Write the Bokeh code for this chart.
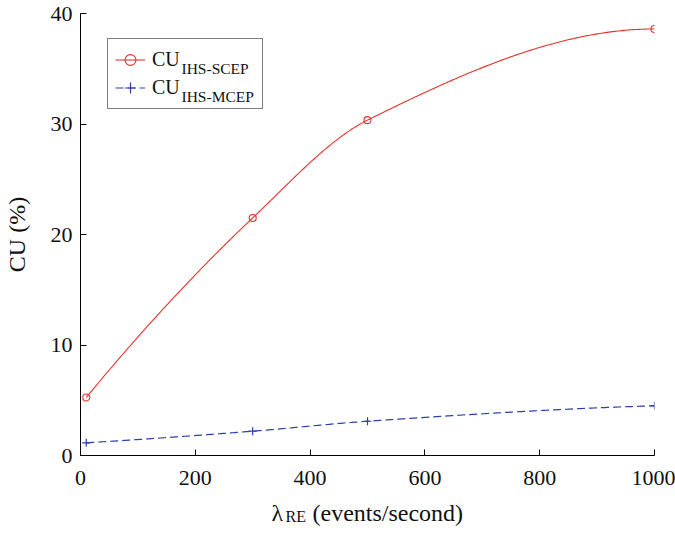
import numpy as np
from bokeh.plotting import figure
from bokeh.layouts import column
from bokeh.models import Range1d, FixedTicker, Label, Legend, LegendItem
from bokeh.embed import file_html
from bokeh.resources import INLINE

# ---- data ----
rate = [10, 300, 500, 1000]                 # lambda_RE (events/second)
cu_scep = [5.25, 21.5, 30.35, 38.6]         # CU_IHS-SCEP (%)
cu_mcep = [1.15, 2.2, 3.1, 4.5]             # CU_IHS-MCEP (%)
x_ticks = [0, 200, 400, 600, 800, 1000]
y_ticks = [0, 10, 20, 30, 40]
series_names = ["CU", "CU"]
series_subs = ["IHS-SCEP", "IHS-MCEP"]
x_label_parts = ["λ", "RE", "(events/second)"]
y_label = "CU (%)"

RED = "#e8302a"
BLUE = "#2a40b0"
FONT = "Liberation Serif"
TXT = "#111111"

LEFT, RIGHT = 77, 21


def pchip(x, y, n=300):
    """Shape-preserving piecewise cubic curve through the data points."""
    x = np.asarray(x, float)
    y = np.asarray(y, float)
    h = np.diff(x)
    d = np.diff(y) / h
    m = np.zeros_like(y)
    for k in range(1, len(x) - 1):
        if d[k - 1] * d[k] > 0:
            w1 = 2 * h[k] + h[k - 1]
            w2 = h[k] + 2 * h[k - 1]
            m[k] = (w1 + w2) / (w1 / d[k - 1] + w2 / d[k])

    def end(h0, h1, d0, d1):
        v = ((2 * h0 + h1) * d0 - h0 * d1) / (h0 + h1)
        if np.sign(v) != np.sign(d0):
            v = 0.0
        elif np.sign(d0) != np.sign(d1) and abs(v) > abs(3 * d0):
            v = 3 * d0
        return v

    m[0] = end(h[0], h[1], d[0], d[1])
    m[-1] = end(h[-1], h[-2], d[-1], d[-2])
    xs = np.linspace(x[0], x[-1], n)
    idx = np.clip(np.searchsorted(x, xs) - 1, 0, len(x) - 2)
    t = (xs - x[idx]) / h[idx]
    h00 = 1 - 3 * t**2 + 2 * t**3
    h10 = t * (1 - t) ** 2
    h01 = 3 * t**2 - 2 * t**3
    h11 = t**2 * (t - 1)
    ys = h00 * y[idx] + h10 * h[idx] * m[idx] + h01 * y[idx + 1] + h11 * h[idx] * m[idx + 1]
    return xs, ys


p = figure(
    width=675, height=497,
    min_border_left=LEFT, min_border_right=RIGHT, min_border_top=13, min_border_bottom=42,
    x_range=Range1d(0, 1000), y_range=Range1d(0, 40),
    output_backend="svg", toolbar_location=None,
    background_fill_color="white", border_fill_color="white",
)
p.outline_line_color = None
p.grid.grid_line_color = None

for ax, ticks in ((p.xaxis, x_ticks), (p.yaxis, y_ticks)):
    ax.ticker = FixedTicker(ticks=ticks)
    ax.major_tick_in = 6
    ax.major_tick_out = 0
    ax.minor_tick_line_color = None
    ax.axis_line_color = "black"
    ax.major_tick_line_color = "black"
    ax.major_label_text_font = FONT
    ax.major_label_text_font_size = "22px"
    ax.major_label_text_color = TXT
p.xaxis.major_label_standoff = 15
p.yaxis.major_label_standoff = 8

p.yaxis.axis_label = y_label
p.yaxis.axis_label_text_font = FONT
p.yaxis.axis_label_text_font_size = "24px"
p.yaxis.axis_label_text_font_style = "normal"
p.yaxis.axis_label_text_color = TXT
p.yaxis.axis_label_standoff = 18

xs1, ys1 = pchip(rate, cu_scep)
xs2, ys2 = pchip(rate, cu_mcep)

l1 = p.line(xs1, ys1, line_color=RED, line_width=1.1)
m1 = p.scatter(rate, cu_scep, marker="circle", size=7, line_color=RED,
               fill_color=None, line_width=1.1)
l2 = p.line(xs2, ys2, line_color=BLUE, line_width=1.2, line_dash="8 4")
m2 = p.scatter(rate, cu_mcep, marker="cross", size=8, line_color=BLUE, line_width=1.2)

legend = Legend(
    items=[LegendItem(label=series_names[0], renderers=[l1, m1]),
           LegendItem(label=series_names[1], renderers=[l2, m2])],
    location=(27, 346),
    padding=7, spacing=1, label_height=27, glyph_height=27,
    glyph_width=30, label_standoff=7, label_width=103,
    label_text_font=FONT, label_text_font_size="20px", label_text_color=TXT,
    border_line_color="black", border_line_width=1,
    background_fill_color=None, margin=0,
)
p.add_layout(legend, "center")

# legend subscripts (screen units relative to the frame's bottom-left)
for ytxt, txt in zip((387.5, 359.5), series_subs):
    p.add_layout(Label(x=101, y=ytxt, x_units="screen", y_units="screen", text=txt,
                       text_font=FONT, text_font_size="15.5px", text_color=TXT,
                       text_baseline="alphabetic", text_align="left", level="overlay"))

# x-axis label strip (lambda with subscript RE), frame aligned with the main frame
xl = figure(width=675, height=36,
            min_border_left=LEFT, min_border_right=RIGHT, min_border_top=0, min_border_bottom=0,
            x_axis_location=None, y_axis_location=None,
            x_range=Range1d(0, 1), y_range=Range1d(0, 1),
            output_backend="svg", toolbar_location=None)
xl.outline_line_color = None
xl.grid.grid_line_color = None
for xpos, ypos, size, txt in ((268, 21, "24px", x_label_parts[0]),
                              (282, 17, "16px", x_label_parts[1]),
                              (309, 21, "24px", x_label_parts[2])):
    xl.add_layout(Label(x=xpos - LEFT, y=ypos, x_units="screen", y_units="screen", text=txt,
                        text_font=FONT, text_font_size=size, text_color=TXT,
                        text_baseline="alphabetic", text_align="left"))

layout = column(p, xl, spacing=0)
open("out.html", "w").write(file_html(layout, INLINE))
